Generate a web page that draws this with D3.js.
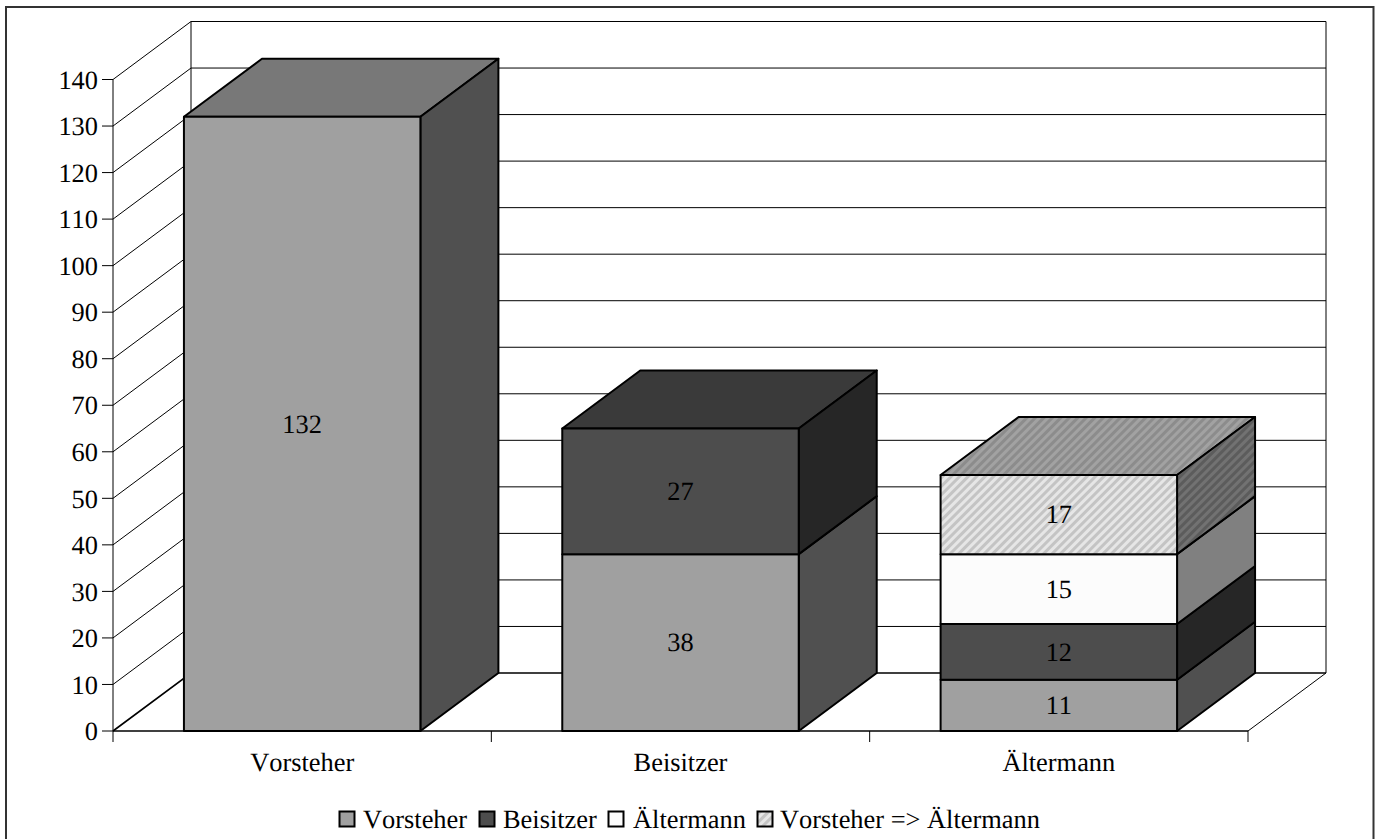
<!DOCTYPE html>
<html>
<head>
<meta charset="utf-8">
<script src="https://cdn.jsdelivr.net/npm/d3@7"></script>
<style>
  html, body { margin: 0; padding: 0; background: #fff; overflow: hidden; }
  svg { display: block; }
  text { font-family: "Liberation Serif", serif; fill: #000; font-kerning: none; text-rendering: geometricPrecision; }
</style>
</head>
<body>
<svg id="chart" width="1378" height="839"></svg>
<script>
// Chart data
const categories = ["Vorsteher", "Beisitzer", "Ältermann"];
const seriesNames = ["Vorsteher", "Beisitzer", "Ältermann", "Vorsteher => Ältermann"];
const vorsteherValues = [132, 38, 11];
const beisitzerValues = [0, 27, 12];
const aeltermannValues = [0, 0, 15];
const wechselValues = [0, 0, 17];
const yTicks = d3.range(0, 141, 10);

// Layout of the oblique projection
const depthX = 78, depthY = -58;
const fontSize = 26.4;
const svg = d3.select("#chart");
const x = d3.scaleBand().domain(categories).range([113, 1248]).paddingInner(0.375).paddingOuter(0.1875);
const y = d3.scaleLinear().domain([0, 140]).range([731, 79.5]);

const rows = categories.map((c, i) => ({
  category: c,
  [seriesNames[0]]: vorsteherValues[i],
  [seriesNames[1]]: beisitzerValues[i],
  [seriesNames[2]]: aeltermannValues[i],
  [seriesNames[3]]: wechselValues[i]
}));
const stacked = d3.stack().keys(seriesNames)(rows);

// Hatch patterns for the fourth series, one per face shade
const defs = svg.append("defs");
function hatch(id, light, dark) {
  const p = defs.append("pattern").attr("id", id).attr("patternUnits", "userSpaceOnUse")
    .attr("width", 6).attr("height", 6).attr("patternTransform", "rotate(45)");
  p.append("rect").attr("width", 6).attr("height", 6).attr("fill", light);
  p.append("rect").attr("width", 3).attr("height", 6).attr("fill", dark);
}
hatch("hatchFront", "#e6e6e6", "#c4c4c4");
hatch("hatchTop", "#a2a2a2", "#8c8c8c");
hatch("hatchSide", "#727272", "#5c5c5c");

const faces = {
  "Vorsteher": { front: "#a0a0a0", top: "#787878", side: "#505050" },
  "Beisitzer": { front: "#4d4d4d", top: "#3a3a3a", side: "#262626" },
  "Ältermann": { front: "#fcfcfc", top: "#bdbdbd", side: "#808080" },
  "Vorsteher => Ältermann": { front: "url(#hatchFront)", top: "url(#hatchTop)", side: "url(#hatchSide)" }
};

// Page frame (runs off the bottom of the page)
svg.append("path").attr("d", "M6,840V7H1373.5V840").attr("fill", "none").attr("stroke", "#333").attr("stroke-width", 2);

const wall = svg.append("g").attr("fill", "none").attr("stroke", "#000").attr("stroke-width", 1);
const x0 = x.range()[0], x1 = x.range()[1];

// Gridlines on the back wall and the left wall
yTicks.forEach(t => {
  const yy = y(t);
  wall.append("path").attr("stroke-width", t === 0 ? 1.6 : 1)
    .attr("d", `M${x0},${yy}L${x0 + depthX},${yy + depthY}H${x1 + depthX}`);
});
// Wall edges, floor and axis lines
wall.append("path").attr("d", `M${x0 + depthX},${y(140) + depthY}V${y(0) + depthY}`);
wall.append("path").attr("d", `M${x1 + depthX},${y(140) + depthY}V${y(0) + depthY}L${x1},${y(0)}`);
wall.append("path").attr("stroke-width", 1.6).attr("d", `M${x0},${y(0)}H${x1}`);
wall.append("path").attr("d", `M${x0},${y(140)}V${y(0)}`);

// Value axis ticks and labels
const yAxis = svg.append("g");
yTicks.forEach(t => {
  yAxis.append("line").attr("x1", x0 - 11).attr("x2", x0).attr("y1", y(t)).attr("y2", y(t)).attr("stroke", "#000");
  yAxis.append("text").attr("x", x0 - 15).attr("y", y(t) + 0.5).attr("dy", "0.33em")
    .attr("text-anchor", "end").attr("font-size", fontSize).text(t);
});

// Category axis: separators between groups and centred labels
const step = x.step();
d3.range(categories.length + 1).forEach(i => {
  const xx = x0 + step * i;
  svg.append("line").attr("x1", xx).attr("x2", xx).attr("y1", y(0)).attr("y2", y(0) + 11).attr("stroke", "#000");
});
categories.forEach(c => {
  svg.append("text").attr("x", x(c) + x.bandwidth() / 2).attr("y", 771)
    .attr("text-anchor", "middle").attr("font-size", fontSize).text(c);
});

// Stacked 3D columns, bottom segment first
const bars = svg.append("g").attr("stroke", "#000").attr("stroke-width", 2).attr("stroke-linejoin", "round");
const pts = a => a.map(p => p.join(",")).join(" ");
categories.forEach((c, ci) => {
  const left = x(c), right = left + x.bandwidth();
  const present = stacked.filter(s => s[ci][1] > s[ci][0]);
  present.forEach((s, si) => {
    const base = y(s[ci][0]), topY = y(s[ci][1]);
    const face = faces[s.key];
    if (si === present.length - 1) {
      bars.append("polygon").attr("fill", face.top).attr("points", pts([
        [left, topY], [left + depthX, topY + depthY], [right + depthX, topY + depthY], [right, topY]
      ]));
    }
    bars.append("polygon").attr("fill", face.side).attr("points", pts([
      [right, base], [right + depthX, base + depthY], [right + depthX, topY + depthY], [right, topY]
    ]));
    bars.append("rect").attr("fill", face.front)
      .attr("x", left).attr("y", topY).attr("width", right - left).attr("height", base - topY);
  });
  // Value labels go on top of all faces of the column
  present.forEach(s => {
    svg.append("text").attr("x", (left + right) / 2).attr("y", (y(s[ci][0]) + y(s[ci][1])) / 2)
      .attr("dy", "0.33em").attr("text-anchor", "middle").attr("font-size", fontSize)
      .text(s[ci][1] - s[ci][0]);
  });
});

// Legend
const legendSwatchX = [339, 479, 608, 757];
const legendTextX = [363, 503, 633, 780];
seriesNames.forEach((name, i) => {
  svg.append("rect").attr("x", legendSwatchX[i] + 0.5).attr("y", 811.5).attr("width", 15).attr("height", 15)
    .attr("fill", faces[name].front).attr("stroke", "#000").attr("stroke-width", 2);
  svg.append("text").attr("x", legendTextX[i]).attr("y", 828).attr("font-size", fontSize).text(name);
});
</script>
</body>
</html>
